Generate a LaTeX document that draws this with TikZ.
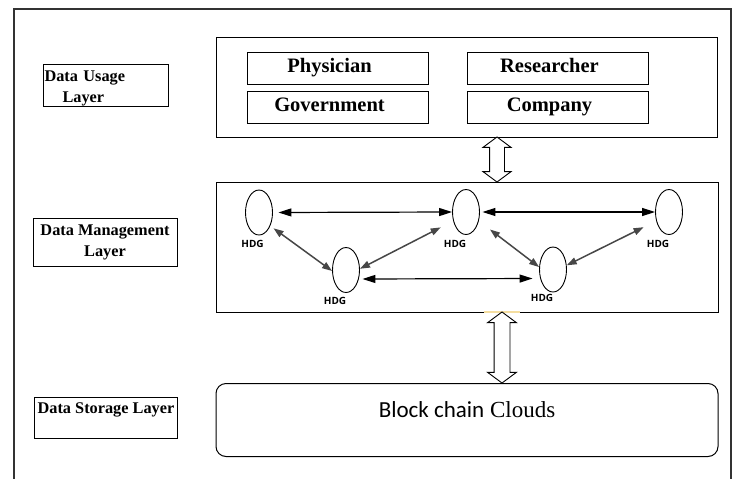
\documentclass[tikz,border=0pt]{standalone}
\usepackage{fontspec}
\setmainfont{Liberation Serif}
\newfontfamily\calibrifont{Carlito}
\newfontfamily\hdgfont{Open Sans}
\usetikzlibrary{positioning,shapes.geometric,shapes.arrows,arrows.meta}
\tikzset{
  layerbox/.style={draw,line width=1pt,inner sep=0pt},
  lbl/.style={draw,line width=1pt,inner sep=0pt,font=\fontsize{16.3}{21}\selectfont\bfseries},
  role/.style={draw,line width=1pt,minimum width=181pt,minimum height=32pt,inner sep=0pt,
               text height=14pt,text depth=6pt,execute at end node=\hspace*{16pt},
               font=\fontsize{20.5}{24}\selectfont\bfseries},
  hdg/.style={draw,ellipse,line width=.9pt,minimum width=27pt,minimum height=45pt,inner sep=0pt},
  hdgtxt/.style={font=\hdgfont\fontsize{10}{12}\selectfont\bfseries,inner sep=0pt},
  harr/.style={line width=1.2pt,{Triangle[length=13pt,width=8pt]}-{Triangle[length=13pt,width=8pt]}},
  darr/.style={line width=1.5pt,black!72,{Triangle[length=10pt,width=7pt]}-{Triangle[length=10pt,width=7pt]}},
  dblarr/.style={draw,double arrow,line width=.9pt,fill=white,inner xsep=0pt,inner ysep=7pt,
                 text height=0pt,text depth=0pt,rotate=90,
                 double arrow tip angle=107,double arrow head extend=6.5pt}
}
\begin{document}
\begin{tikzpicture}[x=1pt,y=-1pt]
\useasboundingbox (0,0) rectangle (736,479);
\draw[line width=1.2pt,black!80] (14,479) -- (14,9) -- (731,9) -- (731,479);

% layer names
\node[lbl,minimum width=125pt,minimum height=42pt,text width=123pt,align=left,anchor=north west]
  (usage) at (43,64) {\rule{0pt}{17pt}Data Usage\\\hspace*{18pt}Layer};
\node[lbl,minimum width=144pt,minimum height=48pt,align=center] (mgmt) at (105,242) {Data Management\\Layer};
\node[lbl,minimum width=143pt,text height=16pt,text depth=25pt,anchor=north west]
  (store) at (34,397) {Data Storage Layer};

% usage layer
\node[layerbox,minimum width=501pt,minimum height=100pt] (ub) at (466.5,87) {};
\node[role] (phys) at (337.5,68) {Physician};
\node[role,right=38pt of phys] (res) {Researcher};
\node[role,below=6pt of phys] (gov) {Government};
\node[role,below=6pt of res] (comp) {Company};

% management layer
\node[layerbox,minimum width=502pt,minimum height=130pt] (mb) at (467,247) {};
\node[hdg] (g1) at (259,212.5) {};
\node[hdg] (g2) at (346,270) {};
\node[hdg] (g3) at (466,212) {};
\node[hdg] (g4) at (669,212) {};
\node[hdg] (g5) at (553,269.5) {};
\node[hdgtxt,below=4.5pt of g1,xshift=-6.5pt] (h1) {HDG};
\node[hdgtxt,below=4pt of g2,xshift=-11pt] (h2) {HDG};
\node[hdgtxt,below=5pt of g3,xshift=-11pt] (h3) {HDG};
\node[hdgtxt,below=5pt of g4,xshift=-11pt] (h4) {HDG};
\node[hdgtxt,below=1.5pt of g5,xshift=-11pt] (h5) {HDG};
\draw[harr,shorten <=5.5pt] (g1.east) -- (g3.west);
\draw[harr,shorten <=2.5pt] (g3.east) -- (g4.west);
\draw[harr,shorten <=2.5pt,shorten >=6.5pt] ([yshift=-9pt]g2.east) -- ([yshift=-9pt]g5.west);
\draw[darr,shorten <=4pt] (g1.-50) -- (g2.184);
\draw[darr,shorten >=14pt] (g2.5) -- (g3.215);
\draw[darr,shorten <=14pt] (g3.-35) -- (g5.170);
\draw[darr,shorten >=14pt] (g5.17) -- (g4.215);

% storage layer
\node[layerbox,rounded corners=10pt,minimum width=502pt,text height=34pt,text depth=39pt,
      anchor=north,font=\fontsize{23}{26}\selectfont] (sb) at (467,383) {{\calibrifont Block chain} Clouds};

% between the layers
\node[dblarr,minimum height=45pt] (a1) at (497,159.5) {};
\draw[line width=1.5pt,color={rgb,255:red,245;green,222;blue,160}] (484,312) -- (520,312);
\node[dblarr,minimum height=71pt,inner ysep=7.5pt] (a2) at (502,347.5) {};
\end{tikzpicture}
\end{document}
